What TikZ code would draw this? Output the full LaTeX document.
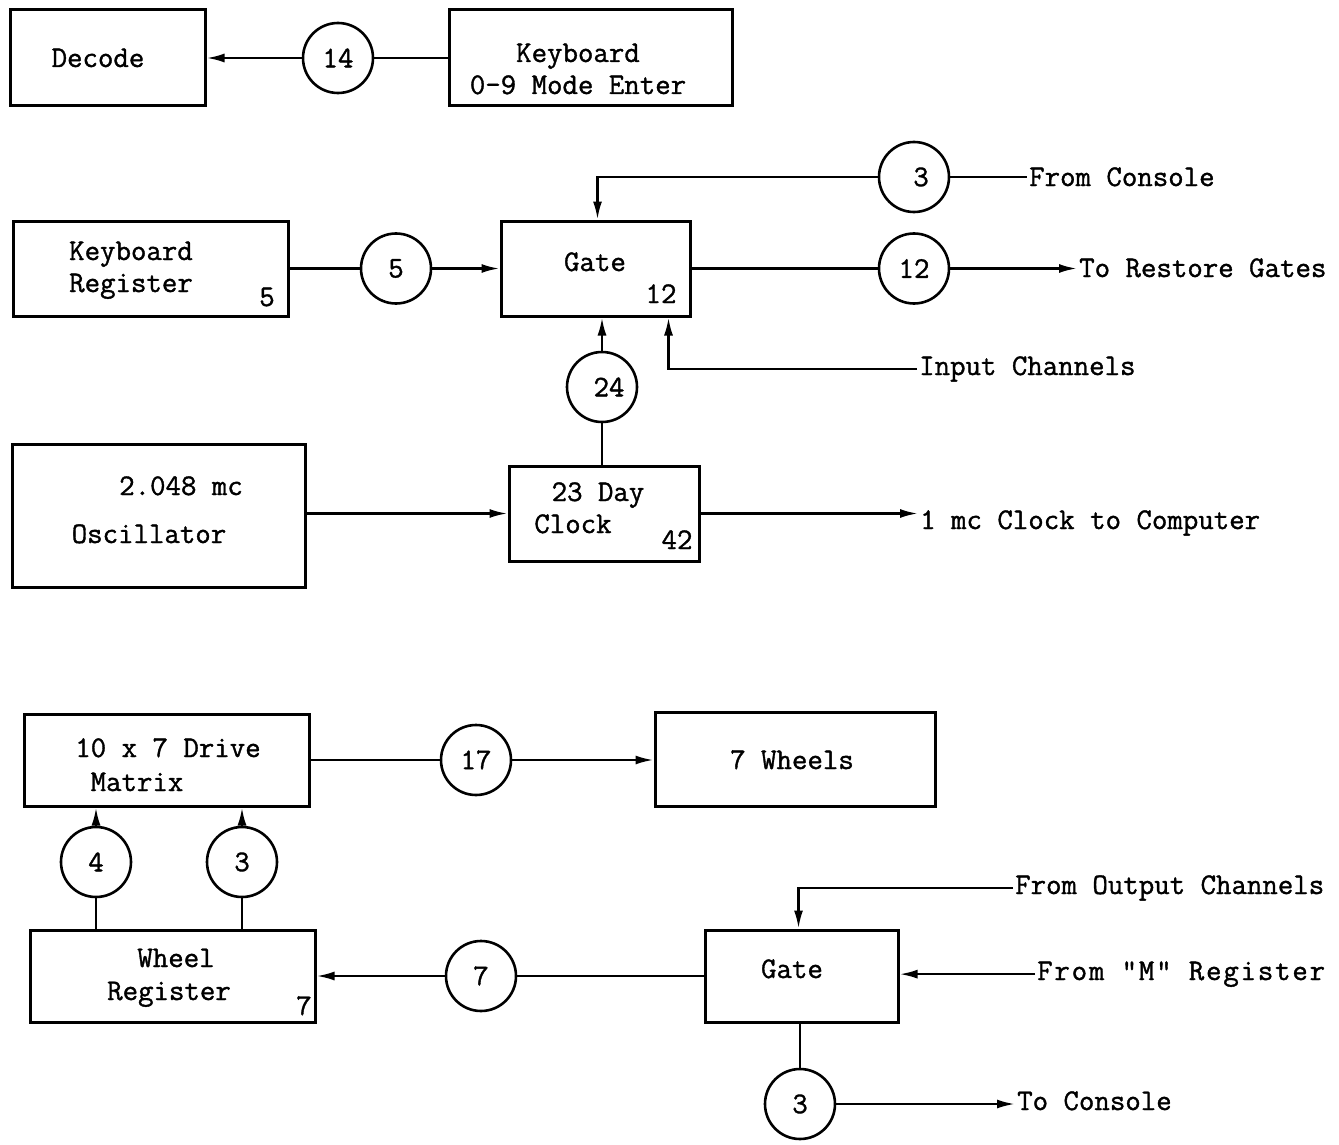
\documentclass[tikz,border=0pt]{standalone}
\usepackage{fontspec}
\newfontfamily\typw[FakeBold=1.2]{Latin Modern Mono}
\usetikzlibrary{arrows.meta}
\begin{document}
\begin{tikzpicture}[x=1pt,y=-1pt,
  every node/.style={font=\typw\fontsize{30}{32}\selectfont},
  box/.style={draw,line width=3pt,inner sep=0pt},
  ring/.style={draw,circle,line width=2.6pt,minimum size=70pt,inner sep=0pt},
  txt/.style={inner sep=0pt,anchor=base},
  lab/.style={inner xsep=2pt,inner ysep=0pt,anchor=base west},
  wire/.style={line width=2.4pt},
  arr/.style={wire,-{Latex[length=18pt,width=9pt]}}]
\fill[white] (0,0) rectangle (1339,1145);
\useasboundingbox (0,0) rectangle (1339,1145);

% boxes
\node[box,minimum width=195pt,minimum height=96pt] (decode) at (107.5,58) {};
\node[box,minimum width=283pt,minimum height=96pt] (kbd) at (590.5,58) {};
\node[box,minimum width=275pt,minimum height=95pt] (kreg) at (150.5,268.5) {};
\node[box,minimum width=189pt,minimum height=95pt] (gate1) at (595.5,268.5) {};
\node[box,minimum width=293pt,minimum height=143pt] (osc) at (158.5,515.5) {};
\node[box,minimum width=190pt,minimum height=95pt] (clock) at (604,513.5) {};
\node[box,minimum width=285pt,minimum height=92pt] (matrix) at (166.5,760) {};
\node[box,minimum width=280pt,minimum height=94pt] (wheels) at (795,759) {};
\node[box,minimum width=285pt,minimum height=92pt] (wreg) at (172.5,976) {};
\node[box,minimum width=193pt,minimum height=92pt] (gate2) at (801.5,976) {};

% box texts
\node[txt] (tdecode) at (98,67) {Decode};
\node[txt] (tkbd1) at (578,62) {Keyboard};
\node[txt] (tkbd2) at (578,94) {0-9 Mode Enter};
\node[txt] (tkreg1) at (131,260) {Keyboard};
\node[txt] (tkreg2) at (131,292) {Register};
\node[txt] (tkreg3) at (267,306) {5};
\node[txt] (tgate1) at (595,271) {Gate};
\node[txt] (tgate1n) at (661,303) {12};
\node[txt] (tosc1) at (181,495) {2.048 mc};
\node[txt] (tosc2) at (149,543) {Oscillator};
\node[txt] (tclk1) at (598,501) {23 Day};
\node[txt] (tclk2) at (573,533) {Clock};
\node[txt] (tclk3) at (677,549) {42};
\node[txt] (tmat1) at (168,757) {10 x 7 Drive};
\node[txt] (tmat2) at (137,791) {Matrix};
\node[txt] (twh) at (792,769) {7 Wheels};
\node[txt] (twr1) at (176,967) {Wheel};
\node[txt] (twr2) at (169,1000) {Register};
\node[txt] (twr3) at (304,1015) {7};
\node[txt] (tgate2) at (792,978) {Gate};

% circles
\node[ring] (c14) at (338,58) {14};
\node[ring] (c5) at (396,268.5) {5};
\node[ring] (c3a) at (914,177) {\hspace*{14pt}3};
\node[ring] (c12) at (914,268.5) {12};
\node[ring] (c24) at (602,387) {\hspace*{14pt}24};
\node[ring] (c17) at (476,760) {17};
\node[ring] (c4) at (96,862) {4};
\node[ring] (c3b) at (242,862) {3};
\node[ring] (c7) at (481,976) {7};
\node[ring] (c3c) at (800,1104) {3};

% external labels
\node[lab] (fc) at (1027,186) {From Console};
\node[lab] (trg) at (1077,277) {To Restore Gates};
\node[lab] (ic) at (917,375) {Input Channels};
\node[lab] (clk) at (918,529) {1 mc Clock to Computer};
\node[lab] (foc) at (1013,894) {From Output Channels};
\node[lab] (fm) at (1035,980) {\addfontfeature{LetterSpace=6}From "M" Register};
\node[lab] (tc) at (1015,1110) {To Console};

% connectors
\draw[arr] (c14.west) -- (c14.west -| decode.east);
\draw[wire] (kbd.west) -- (kbd.west -| c14.east);
\draw[wire] (kreg.east) -- (c5.west);
\draw[arr] (c5.east) -- (gate1.west);
\draw[arr] (c3a.west) -| ([xshift=2pt]gate1.north);
\draw[wire] (c3a.east) -- (c3a.east -| fc.west);
\draw[wire] (gate1.east) -- (c12.west);
\draw[arr] (c12.east) -- (c12.east -| trg.west);
\draw[arr] (ic.west) -| ([xshift=-23pt]gate1.south east);
\draw[arr] (c24.north) -- (c24.north |- gate1.south);
\draw[wire] (c24.south) -- (c24.south |- clock.north);
\draw[arr] (osc.east |- clock.west) -- (clock.west);
\draw[arr] (clock.east) -- (clock.east -| clk.west);
\draw[wire] (matrix.east) -- (c17.west);
\draw[arr] (c17.east) -- (c17.east -| wheels.west);
\draw[arr] (c4.north) -- (c4.north |- matrix.south);
\draw[wire] (c4.south) -- (c4.south |- wreg.north);
\draw[arr] (c3b.north) -- (c3b.north |- matrix.south);
\draw[wire] (c3b.south) -- (c3b.south |- wreg.north);
\draw[wire] (gate2.west) -- (c7.east);
\draw[arr] (c7.west) -- (wreg.east);
\draw[arr] (foc.west) -| ([xshift=-3pt]gate2.north);
\draw[arr] (fm.west) -- (fm.west -| gate2.east);
\draw[wire] (c3c.north |- gate2.south) -- (c3c.north);
\draw[arr] (c3c.east) -- (c3c.east -| tc.west);
\end{tikzpicture}
\end{document}
